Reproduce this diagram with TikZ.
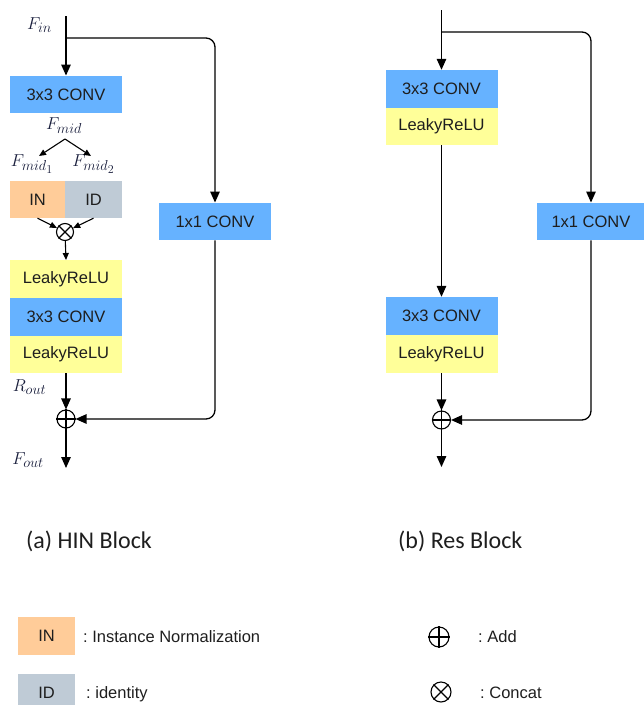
\documentclass[tikz,border=0pt]{standalone}
\usepackage{fontspec}
\setmainfont{Liberation Sans}
\newfontfamily\capfont{Carlito}
\usetikzlibrary{arrows.meta}
\DeclareMathSizes{19}{19}{14.5}{11.5}
\definecolor{convblue}{RGB}{102,178,255}
\definecolor{lreluyellow}{RGB}{255,255,153}
\definecolor{inorange}{RGB}{255,204,153}
\definecolor{idgray}{RGB}{191,203,214}
\definecolor{txt}{RGB}{30,30,30}
\definecolor{mathtxt}{RGB}{25,30,60}
\begin{document}
\frenchspacing
\begin{tikzpicture}[x=1pt,y=-1pt,
  blk/.style={minimum width=112pt,minimum height=37.5pt,inner sep=0pt,text=txt,
    font=\fontsize{16.5}{18}\selectfont},
  conv/.style={blk,fill=convblue},
  lrelu/.style={blk,fill=lreluyellow},
  arr/.style={-{Triangle[length=11pt,width=9.5pt]},line width=1.3pt,draw=black},
  sarr/.style={-{Triangle[length=7pt,width=6pt]},line width=1.1pt,draw=black},
  opnode/.style={circle,draw=black,line width=1.1pt,minimum size=18pt,inner sep=0pt},
  mlab/.style={inner sep=0pt,text=mathtxt,font=\fontsize{19}{22}\selectfont},
  leg/.style={inner sep=0pt,anchor=west,text=txt,font=\frenchspacing\fontsize{16.5}{18}\selectfont},
  captxt/.style={inner sep=0pt,anchor=west,text=txt,font=\capfont\fontsize{24}{28}\selectfont}]
\useasboundingbox (0,0) rectangle (644,705);

% ---------------- (a) HIN Block ----------------
\node[conv] (conv1a) at (66,94.5) {3x3 CONV};
\node[blk,fill=inorange,minimum width=55pt,minimum height=37pt] (inA) at (37.5,199.5) {IN};
\node[blk,fill=idgray,minimum width=57pt,minimum height=37pt] (idA) at (93.5,199.5) {ID};
\node[lrelu] (lr1a) at (66,279) {LeakyReLU};
\node[conv] (conv2a) at (66,317) {3x3 CONV};
\node[lrelu] (lr2a) at (66,354.5) {LeakyReLU};
\node[conv] (c11a) at (215,221.5) {1x1 CONV};

\node[opnode,minimum size=17pt] (cat) at (65,232) {};
\draw[line width=1.1pt] (cat.north west) -- (cat.south east) (cat.north east) -- (cat.south west);
\node[opnode] (adda) at (66,419) {};
\draw[line width=1.1pt] (adda.north) -- (adda.south) (adda.west) -- (adda.east);

\coordinate (ina) at (66,16);
\coordinate (bra) at (66,38);
\coordinate (outa) at (66,468);
\coordinate (mida) at (65,139);
\coordinate (m1) at (39,156);
\coordinate (m2) at (91,156);

\node[mlab] (fin) at (39.5,25) {$F_{in}$};
\node[mlab] (fmid) at (64,126) {$F_{mid}$};
\node[mlab] (fmid1) at (32,164) {$F_{mid_1}$};
\node[mlab] (fmid2) at (93.5,164) {$F_{mid_2}$};
\node[mlab] (rout) at (29.5,387) {$R_{out}$};
\node[mlab] (fout) at (28,460) {$F_{out}$};

\draw[arr] (ina) -- (conv1a.north);
\draw[arr,rounded corners=9pt] (bra) -| (c11a.north);
\draw[sarr] (mida) -- (m1);
\draw[sarr] (mida) -- (m2);
\draw[sarr] (inA.south) -- (cat);
\draw[sarr] (idA.south) -- (cat);
\draw[sarr] (cat) -- (lr1a.north);
\draw[arr] (lr2a.south) -- (adda);
\draw[arr,rounded corners=9pt] (c11a.south) |- (adda);
\draw[arr] (adda) -- (outa);

% ---------------- (b) Res Block ----------------
\node[conv,minimum height=38pt] (conv1b) at (441.5,89) {3x3 CONV};
\node[lrelu,minimum height=37pt] (lr1b) at (441.5,126.5) {LeakyReLU};
\node[conv,minimum height=38pt] (conv2b) at (441.5,316) {3x3 CONV};
\node[lrelu,minimum height=38pt] (lr2b) at (441.5,354) {LeakyReLU};
\node[conv,minimum width=108pt] (c11b) at (591,221.5) {1x1 CONV};

\node[opnode] (addb) at (441.5,420) {};
\draw[line width=1.1pt] (addb.north) -- (addb.south) (addb.west) -- (addb.east);

\coordinate (inb) at (441.5,10);
\coordinate (brb) at (441.5,32);
\coordinate (outb) at (441.5,467);

\draw[arr] (inb) -- (conv1b.north);
\draw[arr,rounded corners=9pt] (brb) -| (c11b.north);
\draw[arr] (lr1b.south) -- (conv2b.north);
\draw[arr] (lr2b.south) -- (addb);
\draw[arr,rounded corners=9pt] (c11b.south) |- (addb);
\draw[arr] (addb) -- (outb);

% ---------------- captions ----------------
\node[captxt] (capa) at (26,541) {(a) HIN Block};
\node[captxt] (capb) at (398,541) {(b) Res Block};

% ---------------- legend ----------------
\node[blk,fill=inorange,minimum width=57pt,minimum height=38pt] (legin) at (46.5,636) {IN};
\node[leg] (legintxt) at (83,637) {: Instance Normalization};
\node[blk,fill=idgray,minimum width=57pt,minimum height=38pt] (legid) at (46.5,693) {ID};
\node[leg] (legidtxt) at (86,694) {: identity};

\node[opnode,minimum size=20pt] (legadd) at (439,637) {};
\draw[line width=1.1pt] (legadd.north) -- (legadd.south) (legadd.west) -- (legadd.east);
\node[leg] (legaddtxt) at (478,637) {: Add};
\node[opnode,minimum size=20pt] (legcat) at (441,692) {};
\draw[line width=1.1pt] (legcat.north west) -- (legcat.south east) (legcat.north east) -- (legcat.south west);
\node[leg] (legcattxt) at (480,693) {: Concat};
\end{tikzpicture}
\end{document}
